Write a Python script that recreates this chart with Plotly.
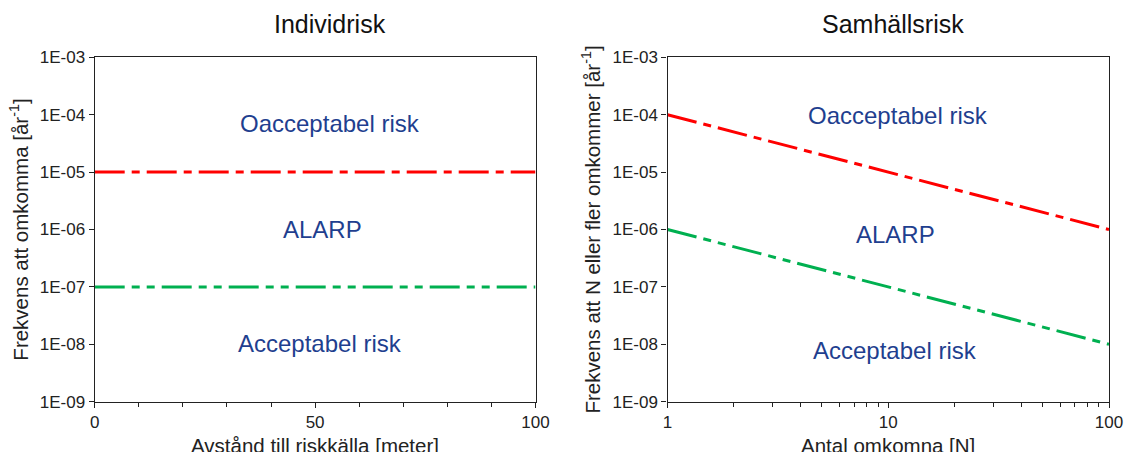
import plotly.graph_objects as go

# ---- data ----
ind_x = [0, 100]
ind_unacc = [1e-5, 1e-5]
ind_acc = [1e-7, 1e-7]

sam_x = [1, 100]
sam_unacc = [1e-4, 1e-6]
sam_acc = [1e-6, 1e-8]

y_tickvals = [1e-9, 1e-8, 1e-7, 1e-6, 1e-5, 1e-4, 1e-3]
y_ticktext = ["1E-09", "1E-08", "1E-07", "1E-06", "1E-05", "1E-04", "1E-03"]
ind_x_tickvals = [0, 50, 100]
ind_x_ticktext = ["0", "50", "100"]
sam_x_tickvals = [1, 10, 100]
sam_x_ticktext = ["1", "10", "100"]

zone_labels = ["Oacceptabel risk", "ALARP", "Acceptabel risk"]

RED = "#FF0000"
GREEN = "#00B050"
TXT = "#1F3F8F"
FONT = "Liberation Sans, Arial, sans-serif"

red_dash = "30px,7px,8px,7px"
green_dash = "30px,7px,8px,7px,8px,7px"

fig = go.Figure()
fig.add_trace(go.Scatter(x=ind_x, y=ind_unacc, mode="lines", line=dict(color=RED, width=3, dash=red_dash),
                         xaxis="x", yaxis="y", showlegend=False))
fig.add_trace(go.Scatter(x=ind_x, y=ind_acc, mode="lines", line=dict(color=GREEN, width=3, dash=green_dash),
                         xaxis="x", yaxis="y", showlegend=False))
fig.add_trace(go.Scatter(x=sam_x, y=sam_unacc, mode="lines", line=dict(color=RED, width=3, dash=red_dash),
                         xaxis="x2", yaxis="y2", showlegend=False))
fig.add_trace(go.Scatter(x=sam_x, y=sam_acc, mode="lines", line=dict(color=GREEN, width=3, dash=green_dash),
                         xaxis="x2", yaxis="y2", showlegend=False))

ydom = [1 - 401.7 / 452, 1 - 57.3 / 452]
axcommon = dict(showgrid=False, zeroline=False, showline=True, linecolor="#222222", linewidth=1.3,
                mirror=True, ticks="outside", ticklen=5, tickcolor="#222222",
                tickfont=dict(family=FONT, size=17, color="#222222"), automargin=False)

fig.update_layout(
    width=1125, height=452,
    margin=dict(l=0, r=0, t=0, b=0),
    paper_bgcolor="white", plot_bgcolor="white",
    font=dict(family=FONT, color="#222222"),
    xaxis=dict(domain=[94.7 / 1125, 535.5 / 1125], range=[0, 100], tickvals=ind_x_tickvals,
               ticktext=ind_x_ticktext, anchor="y",
               minor=dict(dtick=10, ticks="outside", ticklen=4, tickcolor="#222222"),
               **axcommon),
    yaxis=dict(domain=ydom, type="log", range=[-9, -3], tickvals=y_tickvals, ticktext=y_ticktext,
               anchor="x",
               title=dict(text="Frekvens att omkomma [år<sup>-1</sup>]", font=dict(size=20.5, family=FONT), standoff=5),
               **axcommon),
    xaxis2=dict(domain=[667.5 / 1125, 1109 / 1125], type="log", range=[0, 2], tickvals=sam_x_tickvals,
                ticktext=sam_x_ticktext, anchor="y2",
                minor=dict(ticks="outside", ticklen=4, tickcolor="#222222",
                           tickvals=[2, 3, 4, 5, 6, 7, 8, 9, 20, 30, 40, 50, 60, 70, 80, 90]),
                **axcommon),
    yaxis2=dict(domain=ydom, type="log", range=[-9, -3], tickvals=y_tickvals, ticktext=y_ticktext,
                anchor="x2",
                title=dict(text="Frekvens att N eller fler omkommer [år<sup>-1</sup>]", font=dict(size=20.5, family=FONT), standoff=6),
                **axcommon),
)

ann = []
ann.append(dict(text="Individrisk", x=330 / 1125, y=1 - 24 / 452, xref="paper", yref="paper",
                xanchor="center", yanchor="middle",
                showarrow=False, font=dict(size=25, family=FONT, color="#111111")))
ann.append(dict(text="Samhällsrisk", x=893 / 1125, y=1 - 24 / 452, xref="paper", yref="paper",
                xanchor="center", yanchor="middle",
                showarrow=False, font=dict(size=25, family=FONT, color="#111111")))
# x-axis titles placed as annotations (below tick labels)
ann.append(dict(text="Avstånd till riskkälla [meter]", x=0.5, y=1 - 445 / 452, xref="x domain", yref="paper",
                xanchor="center", yanchor="middle", showarrow=False,
                font=dict(size=20.5, family=FONT, color="#222222")))
ann.append(dict(text="Antal omkomna [N]", x=0.5, y=1 - 445 / 452, xref="x2 domain", yref="paper",
                xanchor="center", yanchor="middle", showarrow=False,
                font=dict(size=20.5, family=FONT, color="#222222")))
left_pos = [(53.4, -4.16), (51.6, -6.0), (51.2, -7.98)]
right_pos = [(1.045, -4.02), (1.032, -6.08), (1.032, -8.1)]
for lab, (x, y) in zip(zone_labels, left_pos):
    ann.append(dict(text=lab, x=x, y=y, xref="x", yref="y", showarrow=False,
                    font=dict(size=24, family=FONT, color=TXT)))
for lab, (x, y) in zip(zone_labels, right_pos):
    ann.append(dict(text=lab, x=x, y=y, xref="x2", yref="y2", showarrow=False,
                    font=dict(size=24, family=FONT, color=TXT)))
fig.update_layout(annotations=ann)

fig.write_html("out.html", config={"displayModeBar": False},
               post_script="document.body.style.margin='0';document.body.style.overflow='hidden';")
